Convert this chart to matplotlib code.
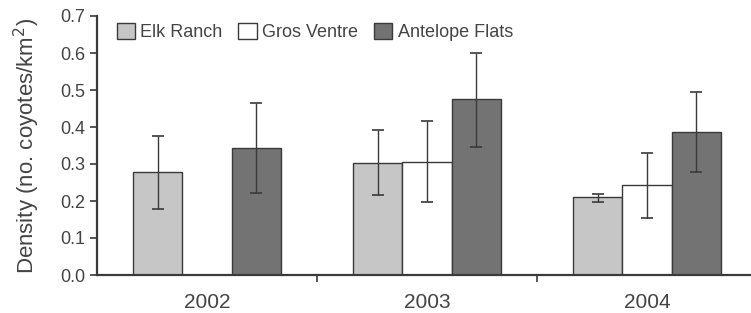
import matplotlib
matplotlib.use("Agg")
import matplotlib.pyplot as plt
import numpy as np

years = ["2002", "2003", "2004"]
series = ["Elk Ranch", "Gros Ventre", "Antelope Flats"]
elk = [0.278, 0.302, 0.210]
elk_lo = [0.178, 0.216, 0.198]
elk_hi = [0.376, 0.392, 0.218]
gv = [np.nan, 0.306, 0.243]
gv_lo = [np.nan, 0.196, 0.155]
gv_hi = [np.nan, 0.416, 0.329]
af = [0.344, 0.475, 0.387]
af_lo = [0.221, 0.345, 0.278]
af_hi = [0.464, 0.599, 0.495]

colors = ["#c6c6c6", "#ffffff", "#737373"]
edge = "#3a3a3a"
txt = "#444444"

plt.rcParams['font.family'] = ['Liberation Sans', 'DejaVu Sans']

fig = plt.figure(figsize=(7.51, 3.13), dpi=100)
ax = fig.add_axes([97/751, 1-275/313, 654/751, (275-16)/313])

x = np.arange(len(years))
w = 0.223
offs = [-w, 0, w]
data = [(elk, elk_lo, elk_hi), (gv, gv_lo, gv_hi), (af, af_lo, af_hi)]
for i, (vals, lo, hi) in enumerate(data):
    vals = np.array(vals, float); lo = np.array(lo, float); hi = np.array(hi, float)
    mask = ~np.isnan(vals)
    xs = x[mask] + offs[i]
    ax.bar(xs, vals[mask], width=w, color=colors[i], edgecolor=edge, linewidth=1.0,
           label=series[i], zorder=2)
    yerr = np.vstack([vals[mask]-lo[mask], hi[mask]-vals[mask]])
    ax.errorbar(xs, vals[mask], yerr=yerr, fmt='none', ecolor=edge, elinewidth=1.0,
                capsize=4, capthick=1.2, zorder=3)

ax.set_xlim(-0.5, -0.5 + 654/220)
ax.set_ylim(0, 0.7)
ax.set_yticks(np.arange(0, 0.71, 0.1))
ax.set_yticklabels([f"{v:.1f}" for v in np.arange(0, 0.71, 0.1)])
ax.set_xticks(x)
ax.set_xticklabels(years)
ax.set_xticks([0.5, 1.5], minor=True)
ax.tick_params(axis='x', which='major', length=0, pad=13, labelsize=15, colors=txt)
ax.tick_params(axis='x', which='minor', length=5, width=1.2, color=edge, direction='out')
ax.tick_params(axis='y', length=5, width=1.2, color=edge, labelsize=13, labelcolor=txt)
for s in ['top', 'right']:
    ax.spines[s].set_visible(False)
ax.spines['left'].set_linewidth(1.6)
ax.spines['bottom'].set_linewidth(1.6)
ax.spines['left'].set_color(edge)
ax.spines['bottom'].set_color(edge)
ax.set_ylabel("Density (no. coyotes/km$^{2}$)", fontsize=16, color=txt, labelpad=13)

leg = ax.legend(loc='upper left', ncol=3, frameon=False, fontsize=13,
                bbox_to_anchor=(0.005, 1.035), handlelength=1.0, handleheight=1.0,
                handletextpad=0.3, columnspacing=0.9)
for t in leg.get_texts():
    t.set_color(txt)

fig.savefig("out.png", dpi=100)
